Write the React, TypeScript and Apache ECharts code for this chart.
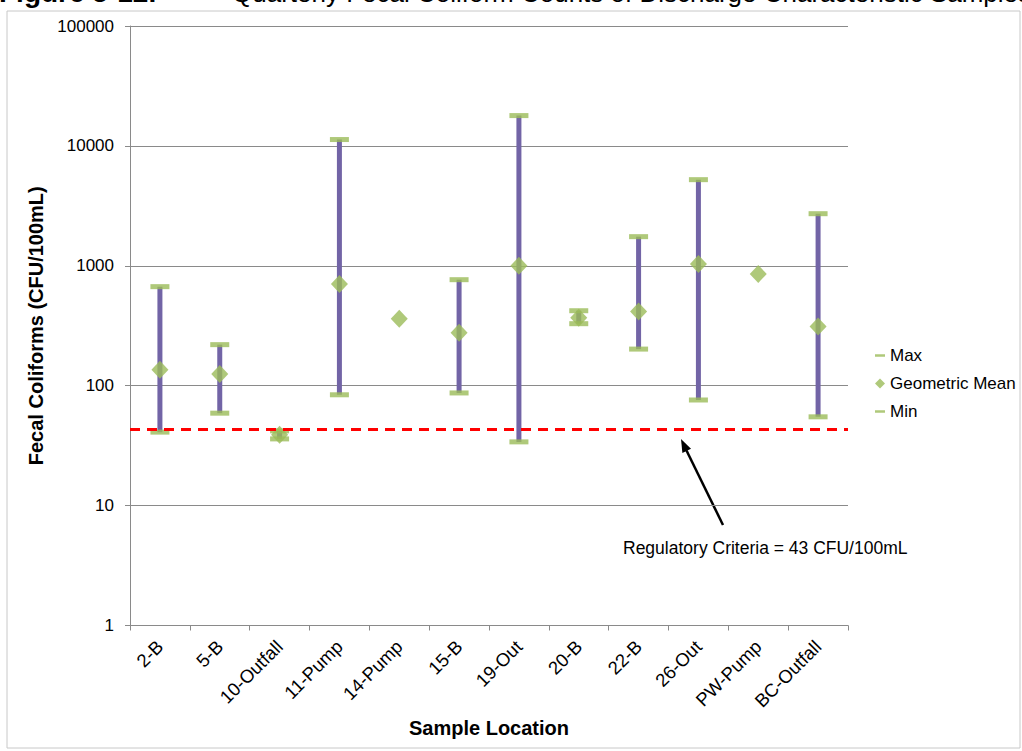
import React, { useEffect, useRef } from "react";
import * as echarts from "echarts";

// Sample locations along the x axis
const locations = [
  "2-B",
  "5-B",
  "10-Outfall",
  "11-Pump",
  "14-Pump",
  "15-B",
  "19-Out",
  "20-B",
  "22-B",
  "26-Out",
  "PW-Pump",
  "BC-Outfall",
];

// Fecal coliform counts (CFU/100mL); null where only one sample was taken
const maxValues = [670, 220, 42, 11300, null, 766, 17900, 422, 1750, 5230, null, 2720];
const geoMeanValues = [136, 125, 39, 705, 362, 276, 1000, 369, 416, 1035, 855, 312];
const minValues = [41, 59, 36, 84, null, 87, 34, 329, 202, 76, null, 55];

const yMin = 1;
const yMax = 100000;
const regulatoryCriteria = 43;

const FONT = "'Liberation Sans', Arial, sans-serif";
const GREEN = "#9bbb59";
const PURPLE = "#7264a6";
const GRID_GRAY = "#8a8a8a";

export default function App() {
  const ref = useRef<HTMLDivElement>(null);

  useEffect(() => {
    if (!ref.current) return;
    const chart = echarts.init(ref.current, undefined, { renderer: "svg" });

    const rangeData = locations
      .map((_, i) => [i, minValues[i], maxValues[i]])
      .filter((d) => d[1] != null && d[2] != null);

    const dash = "path://M0,0H12V3H0Z";

    chart.setOption({
      animation: false,
      backgroundColor: "#ffffff",
      grid: { left: 130, top: 26, width: 718, height: 599.5, containLabel: false },
      legend: {
        orient: "vertical",
        left: 870,
        top: 342,
        itemWidth: 10,
        itemHeight: 10,
        itemGap: 11,
        selectedMode: false,
        textStyle: { fontSize: 17, color: "#000", fontFamily: FONT },
        data: [
          { name: "Max", icon: dash },
          { name: "Geometric Mean", icon: "diamond" },
          { name: "Min", icon: dash },
        ],
      },
      xAxis: {
        type: "category",
        data: locations,
        boundaryGap: true,
        name: "Sample Location",
        nameLocation: "middle",
        nameGap: 91,
        nameTextStyle: { fontSize: 20, fontWeight: "bold", color: "#000", fontFamily: FONT },
        axisLine: { lineStyle: { color: GRID_GRAY, width: 1 } },
        axisTick: { show: true, length: 5, alignWithLabel: false, lineStyle: { color: GRID_GRAY } },
        axisLabel: { rotate: 45, fontSize: 18.5, color: "#000", fontFamily: FONT, margin: 18, interval: 0 },
        splitLine: { show: false },
      },
      yAxis: {
        type: "log",
        logBase: 10,
        min: yMin,
        max: yMax,
        name: "Fecal Coliforms (CFU/100mL)",
        nameLocation: "middle",
        nameGap: 71,
        nameTextStyle: { fontSize: 20, fontWeight: "bold", color: "#000", fontFamily: FONT },
        axisLine: { show: true, lineStyle: { color: GRID_GRAY, width: 1 } },
        axisTick: { show: true, length: 5, lineStyle: { color: GRID_GRAY } },
        axisLabel: {
          fontSize: 17,
          color: "#000",
          fontFamily: FONT,
          margin: 16,
          formatter: (v: number) => String(Math.round(v)),
        },
        splitLine: { show: true, lineStyle: { color: GRID_GRAY, width: 1 } },
        minorTick: { show: false },
      },
      series: [
        {
          name: "Range",
          type: "custom",
          z: 2,
          encode: { x: 0, y: [1, 2] },
          data: rangeData,
          renderItem: (params: any, api: any) => {
            const x = api.value(0);
            const lo = api.coord([x, api.value(1)]);
            const hi = api.coord([x, api.value(2)]);
            return {
              type: "line",
              shape: { x1: lo[0], y1: lo[1], x2: hi[0], y2: hi[1] },
              style: { stroke: PURPLE, lineWidth: 5 },
            };
          },
        },
        {
          name: "Max",
          type: "scatter",
          z: 3,
          symbol: "rect",
          symbolSize: [19, 5],
          itemStyle: { color: GREEN },
          data: maxValues.map((v) => (v == null ? "-" : v)),
        },
        {
          name: "Geometric Mean",
          type: "scatter",
          z: 4,
          symbol: "diamond",
          symbolSize: [17, 18],
          itemStyle: { color: GREEN },
          data: geoMeanValues,
          markLine: {
            silent: true,
            symbol: "none",
            label: { show: false },
            lineStyle: { color: "#ff0000", type: [10, 7], width: 3 },
            data: [{ yAxis: regulatoryCriteria }],
          },
        },
        {
          name: "Min",
          type: "scatter",
          z: 3,
          symbol: "rect",
          symbolSize: [19, 5],
          itemStyle: { color: GREEN },
          data: minValues.map((v) => (v == null ? "-" : v)),
        },
      ],
      graphic: [
        {
          type: "rect",
          z: -1,
          shape: { x: 7, y: 11, width: 1013, height: 737 },
          style: { fill: "none", stroke: "#c8c8c8", lineWidth: 1 },
        },
        {
          type: "text",
          x: -1,
          y: 6,
          style: {
            text: "{b|Figure 5-12.}",
            rich: { b: { fontWeight: "bold", fontSize: 28, fontFamily: FONT, fill: "#000" } },
            verticalAlign: "bottom",
            fontSize: 28,
            fontFamily: FONT,
          },
        },
        {
          type: "text",
          x: 232,
          y: 6,
          style: {
            text: "Quarterly Fecal Coliform Counts of Discharge Characteristic Samples",
            fontSize: 26,
            fontFamily: FONT,
            fill: "#000",
            verticalAlign: "bottom",
          },
        },
        {
          type: "line",
          shape: { x1: 723, y1: 525, x2: 686.5, y2: 450.5 },
          style: { stroke: "#000", lineWidth: 2.5 },
        },
        {
          type: "polygon",
          shape: { points: [[681, 439], [691, 448.7], [682.4, 452.9]] },
          style: { fill: "#000" },
        },
        {
          type: "text",
          x: 623,
          y: 548,
          style: {
            text: "Regulatory Criteria = 43 CFU/100mL",
            fontSize: 17.5,
            fontFamily: FONT,
            fill: "#000",
            verticalAlign: "middle",
          },
        },
      ],
    });

    return () => chart.dispose();
  }, []);

  return (
    <div
      ref={ref}
      style={{ position: "absolute", left: 0, top: 0, width: 1022, height: 751, background: "#fff" }}
    />
  );
}
